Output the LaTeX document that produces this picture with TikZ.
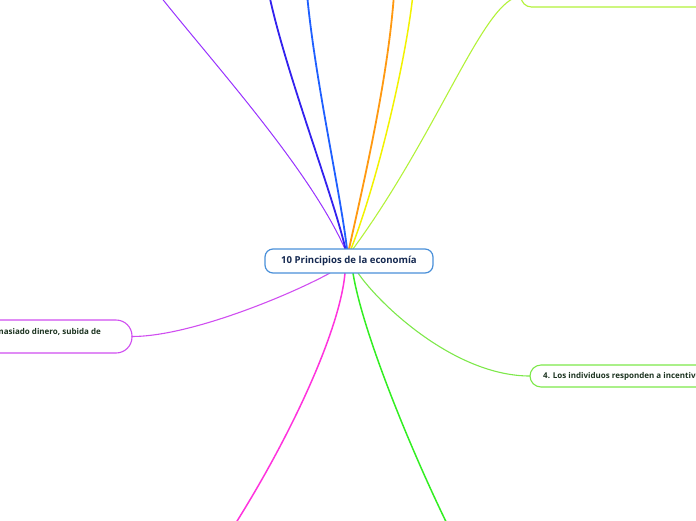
\documentclass[tikz,border=0pt]{standalone}
\usepackage{fontspec}
\setmainfont{Open Sans}
\begin{document}
\begin{tikzpicture}[x=1pt,y=-1pt,
  branch/.style={line cap=round},
  topictext/.style={font=\fontsize{8}{10}\selectfont\bfseries, inner sep=0pt},
]
\useasboundingbox (0,0) rectangle (696,520);
\definecolor{cblue}{HTML}{4A90D9}
\definecolor{cviolet}{HTML}{9933FF}
\definecolor{cindigo}{HTML}{3322EE}
\definecolor{cbluel}{HTML}{1F5FFF}
\definecolor{corange}{HTML}{FF9911}
\definecolor{cyellow}{HTML}{F2F200}
\definecolor{cygreen}{HTML}{B3F23A}
\definecolor{clgreen}{HTML}{7DE84A}
\definecolor{cgreen}{HTML}{33EE22}
\definecolor{cmagenta}{HTML}{FF33DD}
\definecolor{cpurple}{HTML}{D04EF0}
\definecolor{ctext}{HTML}{1C3320}
\definecolor{cnavy}{HTML}{142850}

% coordinates
\coordinate (t1) at (345,249);
\coordinate (t2) at (345.5,249);
\coordinate (t3) at (347,249);
\coordinate (t4) at (349,249);
\coordinate (t5) at (351,249);
\coordinate (t6) at (353,249);
\coordinate (b1) at (330,273);
\coordinate (b2) at (345,273);
\coordinate (b3) at (353,273);
\coordinate (b4) at (358,273);
\coordinate (e1) at (160,-4);
\coordinate (e2) at (269,-6);
\coordinate (e3) at (307,-6);
\coordinate (e4) at (394,-6);
\coordinate (e5) at (413,-6);
\coordinate (e8) at (225,540);
\coordinate (e9) at (455,540);

% branch boxes
\draw[cygreen, line width=1.1pt, fill=white, rounded corners=10.5pt] (521,-14) rectangle (800,7);
\node[topictext, text=ctext, anchor=west] (n3) at (536,-4) {3. Las personas racionales piensan en términos marginales};
\coordinate (n3w) at (521,-3.5);

\draw[clgreen, line width=1.1pt, fill=white, rounded corners=11pt] (530,365) rectangle (800,387);
\node[topictext, text=ctext, anchor=west] (n4) at (543,376) {4. Los individuos responden a incentivos};
\coordinate (n4w) at (530,376);

\draw[cpurple, line width=1.1pt, fill=white, rounded corners=16pt] (-60,320) rectangle (132,353);
\node[topictext, text=ctext, anchor=east] (n9) at (101,331.5) {demasiado dinero, subida de};
\coordinate (n9e) at (132,336.5);

% connectors
\draw[branch, cviolet, line width=1pt] (t1) .. controls (310,170) and (215,65) .. (e1);
\draw[branch, cindigo, line width=1.8pt] (t2) .. controls (333,195) and (285,70) .. (e2);
\draw[branch, cbluel, line width=1.8pt] (t3) .. controls (340,190) and (315,80) .. (e3);
\draw[branch, corange, line width=1.8pt] (t4) .. controls (362,190) and (388,80) .. (e4);
\draw[branch, cyellow, line width=1.5pt] (t5) .. controls (378,180) and (406,60) .. (e5);
\draw[branch, cygreen, line width=1.1pt] (t6) .. controls (440,130) and (485,-3.5) .. (n3w);
\draw[branch, cpurple, line width=1.1pt] (b1) .. controls (290,295) and (190,336.5) .. (n9e);
\draw[branch, cmagenta, line width=1.5pt] (b2) .. controls (340,330) and (290,440) .. (e8);
\draw[branch, cgreen, line width=1.5pt] (b3) .. controls (362,330) and (410,450) .. (e9);
\draw[branch, clgreen, line width=1.1pt] (b4) .. controls (380,305) and (455,376) .. (n4w);

% central node
\node[draw=cblue, line width=1.2pt, fill=white, rounded corners=8pt,
      minimum width=168pt, minimum height=24pt, inner sep=0pt,
      font=\fontsize{9.6}{11}\selectfont\bfseries, text=cnavy] (c) at (349,261) {10 Principios de la economía};
\end{tikzpicture}
\end{document}
